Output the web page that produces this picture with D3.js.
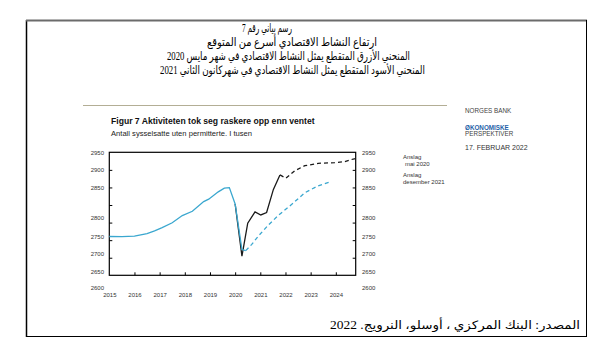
<!DOCTYPE html>
<html><head><meta charset="utf-8">
<script src="https://cdn.jsdelivr.net/npm/d3@7"></script>
<style>
html,body{margin:0;padding:0;background:#fff;}
svg{display:block;}
</style></head>
<body>
<svg id="c" width="600" height="347"></svg>
<script>
// ---- data ----
const titleLines = ["رسم بياني رقم 7","ارتفاع النشاط الاقتصادي أسرع من المتوقع","المنحني الأزرق المتقطع يمثل النشاط الاقتصادي في شهر مايس  2020","المنحني الأسود المتقطع يمثل النشاط الاقتصادي في شهركانون الثاني 2021"];
const sourceText = "المصدر: البنك المركزي ، أوسلو، النرويج. 2022";
const chartTitle = "Figur 7 Aktiviteten tok seg raskere opp enn  ventet";
const chartSubtitle = "Antall sysselsatte uten permitterte. I tusen";
const brandLines = ["NORGES BANK","ØKONOMISKE","PERSPEKTIVER","17. FEBRUAR 2022"];
const legendLabels = [["Anslag","mai 2020"],["Anslag","desember 2021"]];
const yTickValues = [2600,2650,2700,2750,2800,2850,2900,2950];
const xTickYears = [2015,2016,2017,2018,2019,2020,2021,2022,2023,2024];

const blueHistT = [2015.0,2015.5,2016.0,2016.5,2016.8,2017.1,2017.5,2017.9,2018.3,2018.75,2018.95,2019.33,2019.57,2019.77,2020.0,2020.27,2020.42];
const blueHistV = [2750,2749.5,2751,2758,2765,2774,2787,2804,2811,2827,2831,2843,2849,2850,2823,2712,2709];
const blueFcT = [2020.42,2020.66,2020.92,2021.32,2021.71,2022.25,2022.77,2023.3,2023.77];
const blueFcV = [2709,2727,2751,2781,2804,2822.5,2841.6,2855,2866];
const blackHistT = [2020.0,2020.27,2020.5,2020.79,2021.02,2021.25,2021.52,2021.78];
const blackHistV = [2823,2693,2786,2810,2805,2809,2847,2885];
const blackFcT = [2021.78,2022.02,2022.38,2022.77,2023.3,2023.96,2024.36,2024.69,2024.79];
const blackFcV = [2885,2876,2897,2911,2918,2920,2923,2930.5,2932];

// ---- layout ----
const svg = d3.select("#c");
svg.append("rect").attr("width",600).attr("height",347).attr("fill","#fff");

// outer frame
svg.append("line").attr("x1",26.5).attr("x2",26.5).attr("y1",20).attr("y2",337).attr("stroke","#000").attr("stroke-width",1.5);
svg.append("line").attr("x1",26).attr("x2",587).attr("y1",20.5).attr("y2",20.5).attr("stroke","#6b6b6b").attr("stroke-width",2);
svg.append("line").attr("x1",586.5).attr("x2",586.5).attr("y1",20).attr("y2",337).attr("stroke","#000").attr("stroke-width",1);
svg.append("line").attr("x1",26).attr("x2",587).attr("y1",336.5).attr("y2",336.5).attr("stroke","#000").attr("stroke-width",1);

// Arabic title
const arFont = "'Times New Roman','Liberation Serif','DejaVu Sans',serif";
const tY = [31.5,45.5,60,74];
const tX = [267,292,288.5,292.5];
const tW = [50,170,243,265];
titleLines.forEach((t,i)=>{
  svg.append("text").attr("x",tX[i]).attr("y",tY[i]).attr("text-anchor","middle")
    .attr("direction","rtl").attr("textLength",tW[i]).attr("lengthAdjust","spacingAndGlyphs")
    .style("font-family",arFont).style("font-size","11.5px").attr("fill","#000").text(t);
});
svg.append("text").attr("x",455).attr("y",329).attr("text-anchor","middle").attr("direction","rtl")
  .attr("textLength",250).attr("lengthAdjust","spacingAndGlyphs")
  .style("font-family",arFont).style("font-size","11.5px").attr("fill","#000").text(sourceText);

// separator line
svg.append("line").attr("x1",83).attr("x2",447).attr("y1",105.5).attr("y2",105.5).attr("stroke","#b3ae95").attr("stroke-width",1);

const sans = "'Liberation Sans',Arial,sans-serif";
svg.append("text").attr("x",111).attr("y",124).style("font-family",sans).style("font-size","8.6px").style("font-weight","bold").attr("fill","#111").text(chartTitle);
svg.append("text").attr("x",111).attr("y",136).style("font-family",sans).style("font-size","7.6px").attr("fill","#222").text(chartSubtitle);

// brand
const bY = [112.5,130,136,149.5];
const bCol = ["#444","#1f5fa8","#444","#333"];
const bSize = [6.3,6.3,6.3,7];
brandLines.forEach((t,i)=>{
  svg.append("text").attr("x",465).attr("y",bY[i]).style("font-family",sans).style("font-size",bSize[i]+"px")
    .style("font-weight", i===1?"bold":"normal").attr("fill",bCol[i]).text(t);
});

// scales
const x = d3.scaleLinear().domain([2015,2024.79]).range([109.3,355.7]);
const yLab = d3.scaleLinear().domain(yTickValues).range([287.7,271.2,253.7,236.5,218,187.6,169.5,152.3]);
const yTick = d3.scaleLinear().domain([2600,2950]).range([275.3,152.3]);

const axFont = g => g.selectAll("text").style("font-family",sans).style("font-size","6px").attr("fill","#333");

// plot frame
svg.append("rect").attr("x",x(2015)).attr("y",yTick(2950)).attr("width",x(2024.79)-x(2015)).attr("height",yTick(2600)-yTick(2950))
  .attr("fill","none").attr("stroke","#000").attr("stroke-width",1.2);

// tick marks (inward)
svg.append("g").attr("transform",`translate(${x(2015)},0)`)
  .call(d3.axisRight(yTick).tickValues(yTickValues.slice(1,-1)).tickSize(3).tickFormat(""))
  .call(g=>g.select(".domain").remove()).selectAll("line").attr("stroke","#000");
svg.append("g").attr("transform",`translate(${x(2024.79)},0)`)
  .call(d3.axisLeft(yTick).tickValues(yTickValues.slice(1,-1)).tickSize(3).tickFormat(""))
  .call(g=>g.select(".domain").remove()).selectAll("line").attr("stroke","#000");
svg.append("g").attr("transform",`translate(0,${yTick(2600)})`)
  .call(d3.axisTop(x).tickValues(xTickYears.slice(1)).tickSize(3).tickFormat(""))
  .call(g=>g.select(".domain").remove()).selectAll("line").attr("stroke","#000");

// tick labels
svg.append("g").attr("transform","translate(104,0)")
  .call(d3.axisLeft(yLab).tickValues(yTickValues).tickSize(0).tickPadding(0).tickFormat(d3.format("d")))
  .call(g=>g.select(".domain").remove()).call(axFont);
svg.append("g").attr("transform","translate(362,0)")
  .call(d3.axisRight(yLab).tickValues(yTickValues).tickSize(0).tickPadding(0).tickFormat(d3.format("d")))
  .call(g=>g.select(".domain").remove()).call(axFont);
svg.append("g").attr("transform",`translate(0,${yTick(2600)})`)
  .call(d3.axisBottom(x).tickValues(xTickYears).tickSize(0).tickPadding(17).tickFormat(d3.format("d")))
  .call(g=>g.select(".domain").remove()).call(axFont);

// lines
const line = d3.line().x(d=>x(d[0])).y(d=>yLab(d[1]));
const zip = (a,b)=>a.map((t,i)=>[t,b[i]]);
const blue = "#3aa7cf";
svg.append("path").attr("d",line(zip(blackHistT,blackHistV))).attr("fill","none").attr("stroke","#1a1a1a").attr("stroke-width",1.3);
svg.append("path").attr("d",line(zip(blackFcT,blackFcV))).attr("fill","none").attr("stroke","#1a1a1a").attr("stroke-width",1.3).attr("stroke-dasharray","4,3");
svg.append("path").attr("d",line(zip(blueHistT,blueHistV))).attr("fill","none").attr("stroke",blue).attr("stroke-width",1.3);
svg.append("path").attr("d",line(zip(blueFcT,blueFcV))).attr("fill","none").attr("stroke",blue).attr("stroke-width",1.3).attr("stroke-dasharray","4,3");

// legend labels
const lY = [[158.5,166],[176.5,184]];
const lX = [[403,405],[403,403]];
legendLabels.forEach((pair,i)=>pair.forEach((t,j)=>{
  svg.append("text").attr("x",lX[i][j]).attr("y",lY[i][j]).style("font-family",sans).style("font-size","6px").attr("fill","#333").text(t);
}));
</script>
</body></html>
